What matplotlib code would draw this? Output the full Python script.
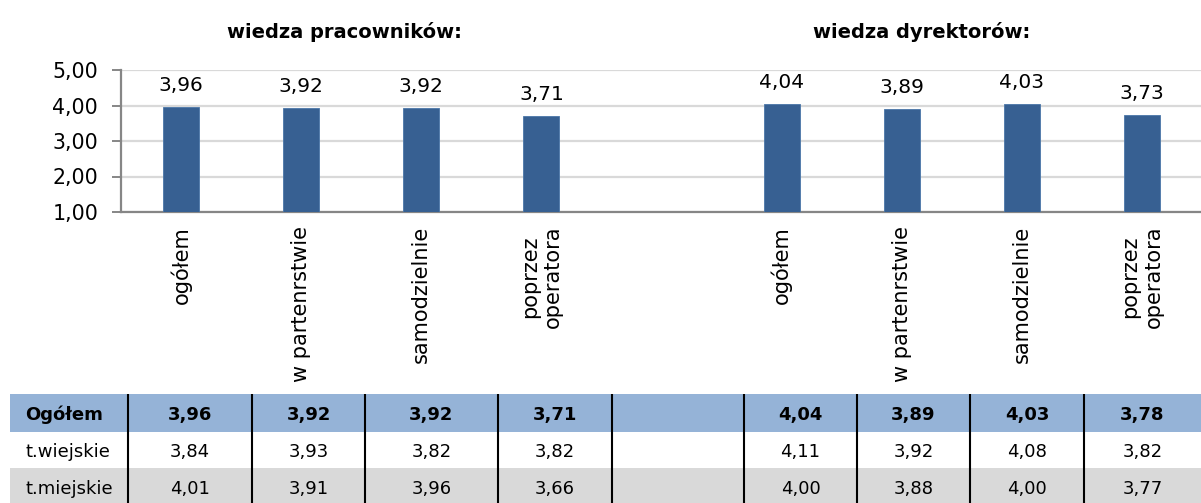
import matplotlib
matplotlib.use("Agg")
import matplotlib.pyplot as plt

plt.rcParams['font.family'] = ['DejaVu Sans']

# ---------------- data ----------------
categories = ["ogółem", "w partenrstwie", "samodzielnie", "poprzez\noperatora"]
group_titles = ["wiedza pracowników:", "wiedza dyrektorów:"]
bar_values_prac = [3.96, 3.92, 3.92, 3.71]
bar_values_dyr = [4.04, 3.89, 4.03, 3.73]
y_ticks = [1, 2, 3, 4, 5]

row_labels = ["Ogółem", "t.wiejskie", "t.miejskie"]
table_prac = [
    ["3,96", "3,92", "3,92", "3,71"],
    ["3,84", "3,93", "3,82", "3,82"],
    ["4,01", "3,91", "3,96", "3,66"],
]
table_dyr = [
    ["4,04", "3,89", "4,03", "3,78"],
    ["4,11", "3,92", "4,08", "3,82"],
    ["4,00", "3,88", "4,00", "3,77"],
]

# ---------------- layout ----------------
W, H = 1201, 503
fig = plt.figure(figsize=(W / 100, H / 100), dpi=100)
fig.patch.set_facecolor('white')

ax = fig.add_axes([121 / W, 1 - 212 / H, 1081 / W, 142 / H])

pos_prac = [0, 1, 2, 3]
pos_dyr = [5, 6, 7, 8]
positions = pos_prac + pos_dyr
values = bar_values_prac + bar_values_dyr
labels = categories + categories

bar_color = '#376092'
ax.bar(positions, values, width=0.30, color=bar_color, edgecolor='#4A76A8',
       linewidth=0.6, zorder=3)

for x, v in zip(positions, values):
    ax.annotate(f"{v:.2f}".replace('.', ','), xy=(x, v), xytext=(0, 11.5),
                textcoords='offset points', ha='center', va='baseline',
                fontsize=14.5, color='black')

ax.set_xlim(-0.5, 8.5)
ax.set_ylim(1, 5)
ax.set_yticks(y_ticks)
ax.set_yticklabels([f"{t:.2f}".replace('.', ',') for t in y_ticks])
ax.set_xticks(positions)
ax.set_xticklabels(labels, rotation=90, va='top', ha='center',
                   multialignment='center', fontsize=15)
ax.tick_params(axis='x', length=0, pad=10)
ax.tick_params(axis='y', length=6.5, width=1.4, color='#868686',
               labelsize=14.8, pad=10)

ax.yaxis.grid(True, color='#D9D9D9', linewidth=1.6, zorder=0)
ax.set_axisbelow(True)
for s in ['top', 'right']:
    ax.spines[s].set_visible(False)
for s in ['left', 'bottom']:
    ax.spines[s].set_color('#868686')
    ax.spines[s].set_linewidth(1.6)
ax.patch.set_alpha(0)

# titles
fig.text(344 / W, 1 - 32 / H, group_titles[0], ha='center', va='center',
         fontsize=14, fontweight='bold')
fig.text(922 / W, 1 - 32 / H, group_titles[1], ha='center', va='center',
         fontsize=14, fontweight='bold')

# ---------------- table ----------------
tax = fig.add_axes([0, 0, 1, 1], zorder=-1)
tax.set_xlim(0, W)
tax.set_ylim(H, 0)
tax.axis('off')

col_edges = [10, 128, 252, 365, 498, 612, 744, 857, 970, 1084, 1201]
row_edges = [394, 432, 468, 503]
row_fill = ['#95B3D7', 'white', '#D9D9D9']

for i in range(3):
    tax.fill_between([col_edges[0], col_edges[-1]], row_edges[i], row_edges[i + 1],
                     color=row_fill[i], linewidth=0)

tax.vlines(col_edges[1:-1], row_edges[0], row_edges[-1], color='black', linewidth=1.5)

for i in range(3):
    yc = (row_edges[i] + row_edges[i + 1]) / 2 + (2 if i == 2 else 0)
    weight = 'bold' if i == 0 else 'normal'
    tax.text(col_edges[0] + 15, yc, row_labels[i], ha='left', va='center_baseline',
             fontsize=13, fontweight=weight)
    row_vals = table_prac[i] + [""] + table_dyr[i]
    for j, txt in enumerate(row_vals):
        xc = (col_edges[j + 1] + col_edges[j + 2]) / 2
        tax.text(xc, yc, txt, ha='center', va='center_baseline', fontsize=13,
                 fontweight=weight)

fig.savefig('out.png', dpi=100, facecolor='white')
